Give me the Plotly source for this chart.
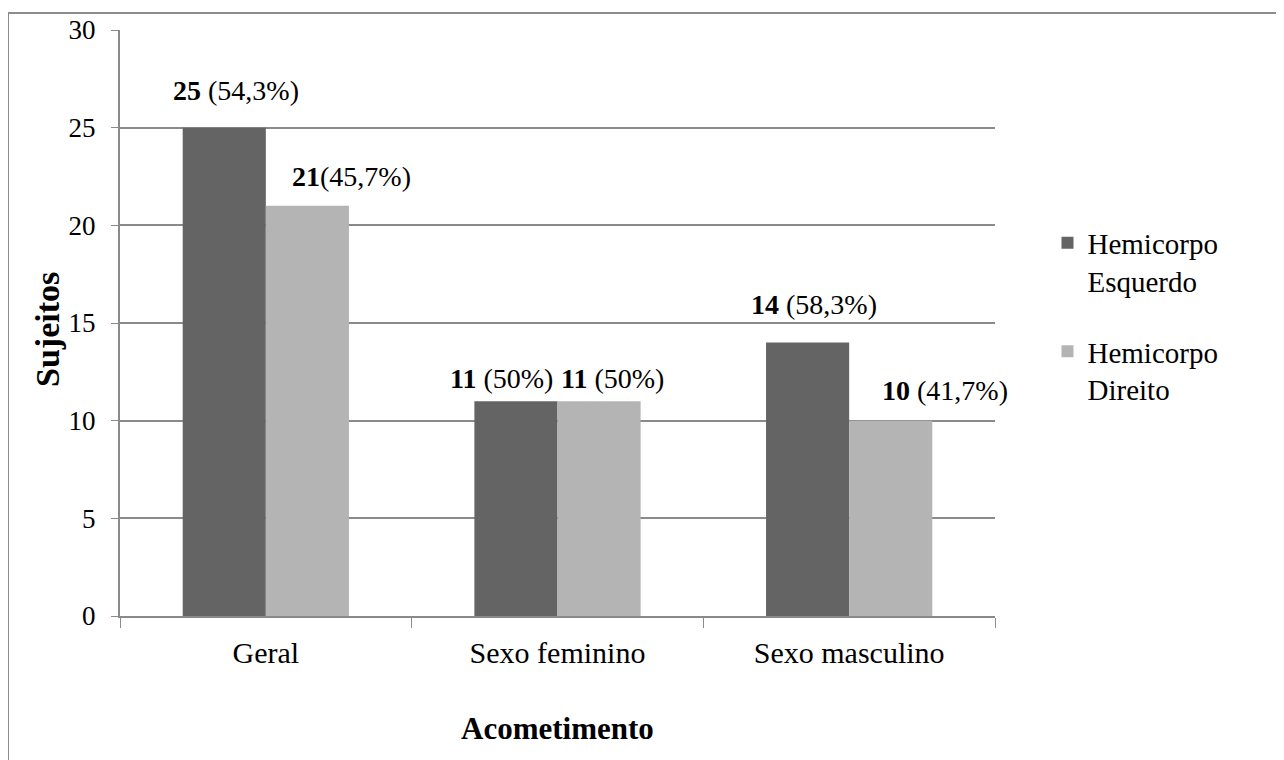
import plotly.graph_objects as go

categories = ["Geral", "Sexo feminino", "Sexo masculino"]
esquerdo = [25, 11, 14]
direito = [21, 11, 10]
esquerdo_pct = ["54,3%", "50%", "58,3%"]
direito_pct = ["45,7%", "50%", "41,7%"]
series_names = ["Hemicorpo<br>Esquerdo", "Hemicorpo<br>Direito"]
y_ticks = [0, 5, 10, 15, 20, 25, 30]

FONT = "'Liberation Serif', 'Times New Roman', Times, 'DejaVu Serif', serif"
DARK = "#646464"
LIGHT = "#b4b4b4"
GRID = "#8a8a8a"

fig = go.Figure()
fig.add_trace(go.Bar(x=categories, y=esquerdo, name=series_names[0], legendgroup="e",
                     marker=dict(color=DARK, line=dict(width=0))))
fig.add_trace(go.Bar(x=categories, y=direito, name=series_names[1], legendgroup="d",
                     marker=dict(color=LIGHT, line=dict(width=0))))

# label placement tweaks (style only)
bar_half = 0.1425
left_xshift = [12, -14, 6]
right_xshift = [44, 13, 54]
left_yshift = [20, 5, 21]
right_yshift = [12, 5, 13]
left_sep = [" ", " ", " "]
right_sep = ["", " ", " "]
annotations = []
for i in range(len(categories)):
    annotations.append(dict(x=i - bar_half, y=esquerdo[i], xref="x", yref="y",
                            text=f"<b>{esquerdo[i]}</b>{left_sep[i]}({esquerdo_pct[i]})",
                            showarrow=False, yanchor="bottom", yshift=left_yshift[i],
                            xshift=left_xshift[i],
                            font=dict(family=FONT, size=28, color="#000")))
    annotations.append(dict(x=i + bar_half, y=direito[i], xref="x", yref="y",
                            text=f"<b>{direito[i]}</b>{right_sep[i]}({direito_pct[i]})",
                            showarrow=False, yanchor="bottom", yshift=right_yshift[i],
                            xshift=right_xshift[i],
                            font=dict(family=FONT, size=28, color="#000")))

annotations.append(dict(x=0.5, y=0, xref="paper", yref="paper", text="<b>Acometimento</b>",
                        showarrow=False, yanchor="middle", yshift=-112,
                        font=dict(family=FONT, size=31, color="#000")))
annotations.append(dict(x=0, y=0.5, xref="paper", yref="paper", text="<b>Sujeitos</b>",
                        showarrow=False, xanchor="center", xshift=-73, yshift=-7, textangle=-90,
                        font=dict(family=FONT, size=34, color="#000")))

fig.update_layout(
    width=1284, height=760,
    margin=dict(l=112, r=297, t=22, b=152),
    paper_bgcolor="white", plot_bgcolor="white",
    barmode="group", bargap=0.43, bargroupgap=0,
    font=dict(family=FONT, size=28, color="#000"),
    showlegend=True,
    legend=dict(x=1.06, y=0.68, xanchor="left", yanchor="top", valign="top",
                font=dict(family=FONT, size=29, color="#000"),
                tracegroupgap=30, itemwidth=30, bgcolor="rgba(0,0,0,0)"),
    annotations=annotations,
    shapes=[dict(type="rect", xref="paper", yref="paper",
                 x0=-0.128, x1=1.3235, y0=-0.4, y1=1.029,
                 line=dict(color="#8c8c8c", width=2), fillcolor="rgba(0,0,0,0)", layer="below")],
)
fig.update_xaxes(range=[-0.5, len(categories) - 0.5], autorange=False,
                 showline=True, linecolor=GRID, linewidth=2, ticks="outside", automargin=False,
                 tickson="boundaries", ticklen=10, tickcolor=GRID, tickwidth=1,
                 ticklabelstandoff=9,
                 tickfont=dict(family=FONT, size=30, color="#000"), showgrid=False)
fig.update_yaxes(range=[0, 30], tickvals=y_ticks, showline=True, linecolor=GRID, linewidth=2,
                 ticks="outside", ticklen=7, tickcolor=GRID, tickwidth=1, ticklabelstandoff=10,
                 automargin=False,
                 showgrid=True, gridcolor=GRID, gridwidth=1.5, zeroline=False,
                 tickfont=dict(family=FONT, size=27, color="#000"))

fig.write_html("out.html")
